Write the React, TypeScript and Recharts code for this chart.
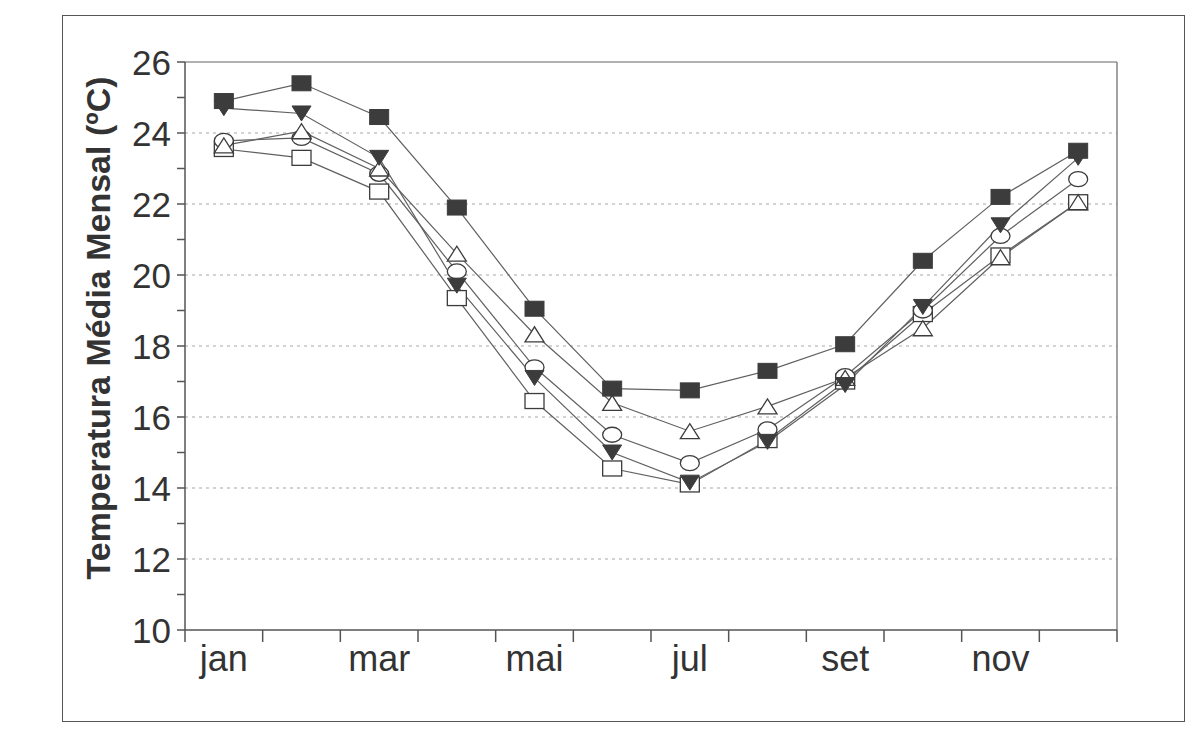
import React from 'react';
import { LineChart, Line, XAxis, YAxis, ReferenceLine, Label } from 'recharts';

const months = ['jan', 'fev', 'mar', 'abr', 'mai', 'jun', 'jul', 'ago', 'set', 'out', 'nov', 'dez'];
const labelTicks = [1, 3, 5, 7, 9, 11];
const boundaryTicks = [0.5, 1.5, 2.5, 3.5, 4.5, 5.5, 6.5, 7.5, 8.5, 9.5, 10.5, 11.5, 12.5];
const yTicks = [10, 11, 12, 13, 14, 15, 16, 17, 18, 19, 20, 21, 22, 23, 24, 25, 26];
const gridValues = [12, 14, 16, 18, 20, 22, 24];

const filledSquare = [24.9, 25.4, 24.45, 21.9, 19.05, 16.8, 16.75, 17.3, 18.05, 20.4, 22.2, 23.5];
const filledTriangle = [24.7, 24.55, 23.3, 19.7, 17.1, 15.0, 14.15, 15.3, 16.9, 19.1, 21.4, 23.3];
const openCircle = [23.78, 23.86, 22.85, 20.1, 17.4, 15.5, 14.7, 15.65, 17.15, 19.0, 21.1, 22.7];
const openTriangle = [23.65, 24.05, 23.0, 20.6, 18.33, 16.4, 15.6, 16.3, 17.1, 18.5, 20.5, 22.05];
const openSquare = [23.55, 23.3, 22.35, 19.35, 16.45, 14.55, 14.1, 15.35, 17.0, 18.9, 20.55, 22.05];

const data = months.map((m, i) => ({
  x: i + 1,
  month: m,
  sq: filledSquare[i],
  tri: filledTriangle[i],
  circ: openCircle[i],
  otri: openTriangle[i],
  osq: openSquare[i],
}));

const INK = '#3c3c3c';
const LINE = '#606060';

const makeDot = (kind: string) => (props: any) => {
  const { cx, cy, index } = props;
  const key = `${kind}-${index}`;
  if (cx == null || cy == null) return <g key={key} />;
  const w = 9.5;
  const h = 7.5;
  switch (kind) {
    case 'sq':
      return <rect key={key} x={cx - w} y={cy - h} width={2 * w} height={2 * h} fill={INK} stroke={INK} strokeWidth={1} />;
    case 'osq':
      return <rect key={key} x={cx - w} y={cy - h} width={2 * w} height={2 * h} fill="#fff" stroke={INK} strokeWidth={1.3} />;
    case 'tri':
      return <polygon key={key} points={`${cx - w},${cy - h} ${cx + w},${cy - h} ${cx},${cy + h}`} fill={INK} stroke={INK} strokeWidth={1} />;
    case 'otri':
      return <polygon key={key} points={`${cx - w},${cy + h} ${cx + w},${cy + h} ${cx},${cy - h}`} fill="#fff" stroke={INK} strokeWidth={1.3} />;
    default:
      return <ellipse key={key} cx={cx} cy={cy} rx={w} ry={h} fill="#fff" stroke={INK} strokeWidth={1.3} />;
  }
};

const EmptyTick = () => <g />;

const YTick = (props: any) => {
  const { x, y, payload } = props;
  if (payload.value % 2 !== 0) return <g />;
  return (
    <text x={x - 4} y={y} textAnchor="end" dominantBaseline="central" fontSize={35} fill="#333" fontFamily="Liberation Sans, Arial, sans-serif">
      {payload.value}
    </text>
  );
};

const YLabel = (props: any) => {
  const vb = props.viewBox || { x: 0, y: 0, width: 0, height: 0 };
  const cx = vb.x - 17;
  const cy = vb.y + vb.height / 2 - 18;
  return (
    <text
      x={cx}
      y={cy}
      transform={`rotate(-90 ${cx} ${cy})`}
      textAnchor="middle"
      dominantBaseline="central"
      fontSize={34}
      fontWeight="bold"
      fill="#333"
      fontFamily="Liberation Sans, Arial, sans-serif"
    >
      Temperatura Média Mensal (ºC)
    </text>
  );
};

export default function App() {
  return (
    <div style={{ position: 'relative', width: 1177, height: 730, fontFamily: 'Liberation Sans, Arial, sans-serif' }}>
      <div
        style={{
          position: 'absolute',
          left: 54,
          top: 7,
          width: 1123,
          height: 707,
          border: '1.5px solid #555',
          boxSizing: 'border-box',
        }}
      />
      <div style={{ position: 'absolute', left: 0, top: 0 }}>
        <LineChart width={1177} height={730} data={data} margin={{ top: 54, right: 68, bottom: 47, left: 107 }}>
          <XAxis
            xAxisId="b"
            type="number"
            dataKey="x"
            domain={[0.5, 12.5]}
            ticks={boundaryTicks}
            tick={EmptyTick}
            tickSize={12}
            height={1}
            stroke="#555"
            strokeWidth={1.5}
            allowDataOverflow
          />
          <XAxis
            xAxisId="l"
            type="number"
            dataKey="x"
            domain={[0.5, 12.5]}
            ticks={labelTicks}
            tickFormatter={(v: number) => months[v - 1]}
            axisLine={false}
            tickLine={false}
            tickSize={0}
            tickMargin={14}
            height={60}
            tick={{ fontSize: 36, fill: '#333', fontFamily: 'Liberation Sans, Arial, sans-serif' }}
            allowDataOverflow
          />
          <YAxis
            type="number"
            domain={[10, 26]}
            ticks={yTicks}
            interval={0}
            width={70}
            tickSize={8}
            tick={YTick}
            stroke="#555"
            strokeWidth={1.5}
            allowDataOverflow
          >
            <Label content={YLabel} />
          </YAxis>
          {gridValues.map((v) => (
            <ReferenceLine key={`g${v}`} xAxisId="b" y={v} stroke="#a8a8a8" strokeDasharray="3 4" strokeWidth={1.2} />
          ))}
          <ReferenceLine xAxisId="b" y={26} stroke="#666" strokeWidth={1.2} />
          <ReferenceLine xAxisId="b" x={12.5} stroke="#666" strokeWidth={1.2} />
          <Line xAxisId="b" dataKey="osq" stroke={LINE} strokeWidth={1.2} dot={makeDot('osq')} isAnimationActive={false} />
          <Line xAxisId="b" dataKey="circ" stroke={LINE} strokeWidth={1.2} dot={makeDot('circ')} isAnimationActive={false} />
          <Line xAxisId="b" dataKey="otri" stroke={LINE} strokeWidth={1.2} dot={makeDot('otri')} isAnimationActive={false} />
          <Line xAxisId="b" dataKey="tri" stroke={LINE} strokeWidth={1.2} dot={makeDot('tri')} isAnimationActive={false} />
          <Line xAxisId="b" dataKey="sq" stroke={LINE} strokeWidth={1.2} dot={makeDot('sq')} isAnimationActive={false} />
        </LineChart>
      </div>
    </div>
  );
}
